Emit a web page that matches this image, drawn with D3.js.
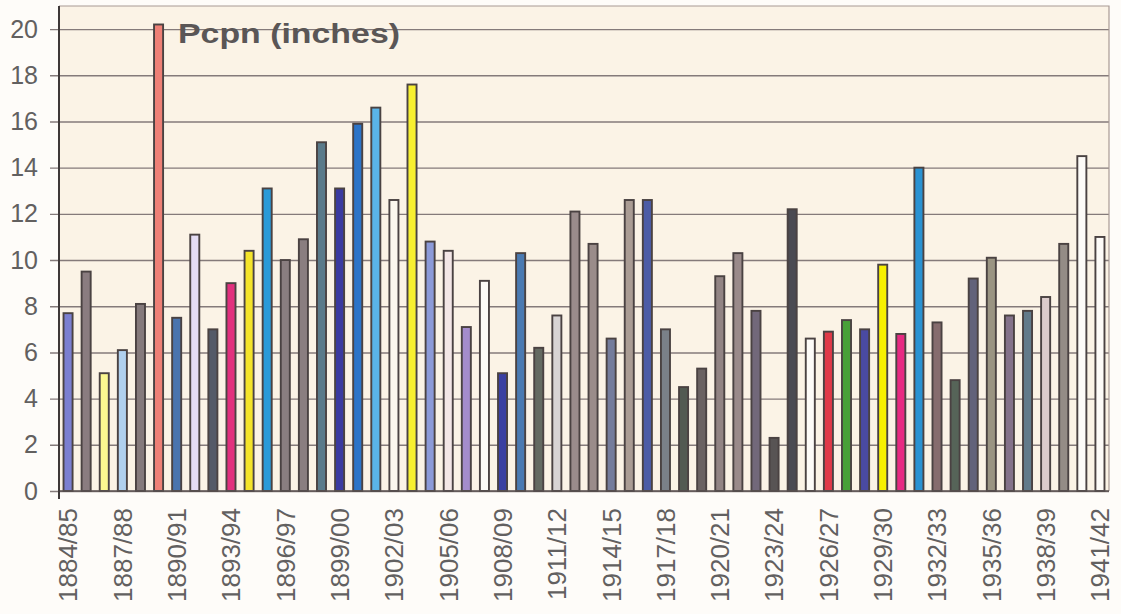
<!DOCTYPE html>
<html>
<head>
<meta charset="utf-8">
<script src="https://cdn.jsdelivr.net/npm/d3@7"></script>
<style>
  html, body { margin: 0; padding: 0; background: #fefcf9; }
  svg { display: block; }
  text { font-family: "Liberation Sans", Arial, sans-serif; }
</style>
</head>
<body>
<svg id="chart" width="1121" height="614"></svg>
<script>
// Seasonal precipitation totals, 1884/85 – 1941/42
const seasons = [
  "1884/85","1885/86","1886/87","1887/88","1888/89","1889/90","1890/91","1891/92",
  "1892/93","1893/94","1894/95","1895/96","1896/97","1897/98","1898/99","1899/00",
  "1900/01","1901/02","1902/03","1903/04","1904/05","1905/06","1906/07","1907/08",
  "1908/09","1909/10","1910/11","1911/12","1912/13","1913/14","1914/15","1915/16",
  "1916/17","1917/18","1918/19","1919/20","1920/21","1921/22","1922/23","1923/24",
  "1924/25","1925/26","1926/27","1927/28","1928/29","1929/30","1930/31","1931/32",
  "1932/33","1933/34","1934/35","1935/36","1936/37","1937/38","1938/39","1939/40",
  "1940/41","1941/42"
];

const pcpn = [
  7.7, 9.5, 5.1, 6.1, 8.1, 20.2, 7.5, 11.1,
  7.0, 9.0, 10.4, 13.1, 10.0, 10.9, 15.1, 13.1,
  15.9, 16.6, 12.6, 17.6, 10.8, 10.4, 7.1, 9.1,
  5.1, 10.3, 6.2, 7.6, 12.1, 10.7, 6.6, 12.6,
  12.6, 7.0, 4.5, 5.3, 9.3, 10.3, 7.8, 2.3,
  12.2, 6.6, 6.9, 7.4, 7.0, 9.8, 6.8, 14.0,
  7.3, 4.8, 9.2, 10.1, 7.6, 7.8, 8.4, 10.7,
  14.5, 11.0
];

const barColors = [
  "#7b7fd0","#8a7c80","#fbf790","#b0d0ee","#857a7c","#ee8076","#4a74ae","#e4dcf4",
  "#545a68","#e2307e","#f4e42a","#2a9ad8","#8a7e80","#8a7e80","#5a7a8a","#3a3aa0",
  "#2c74c8","#5ab4e8","#fbf7ee","#f8f030","#8c9ad8","#f3e6e6","#a48ccc","#fcfaf6",
  "#3a40a2","#4a7ab2","#646a62","#d8d4d4","#9a8c8c","#9a8c8a","#747c9c","#aa9c94",
  "#4c5ca6","#7a8088","#525a52","#6a6262","#928484","#9a8a8a","#72687a","#585454",
  "#4a4a52","#fdfbf8","#e03a48","#48a038","#4a4aa2","#f8f000","#e82a82","#2a92d2",
  "#866c6e","#566458","#62627a","#9a9482","#84728a","#627a8a","#dccccc","#948c86",
  "#fdfbf8","#fdfbf8"
];

const yTicks = [0, 2, 4, 6, 8, 10, 12, 14, 16, 18, 20];
const labelledSeasons = seasons.filter((d, i) => i % 3 === 0);
const title = "Pcpn (inches)";

const margin = { top: 6, right: 12, bottom: 123, left: 59 };
const width = 1121, height = 614;
const innerW = width - margin.left - margin.right;
const innerH = height - margin.top - margin.bottom;

const svg = d3.select("#chart");

const x = d3.scaleBand()
  .domain(seasons)
  .range([margin.left, margin.left + innerW])
  .paddingInner(0.5)
  .paddingOuter(0.25);

const y = d3.scaleLinear()
  .domain([0, 21])
  .range([margin.top + innerH, margin.top]);

// plot background
svg.append("rect")
  .attr("x", margin.left).attr("y", margin.top)
  .attr("width", innerW).attr("height", innerH)
  .attr("fill", "#fbf3e6");

// horizontal gridlines, reaching a little left of the axis
const gy = svg.append("g")
  .attr("transform", `translate(${margin.left + innerW},0)`)
  .call(d3.axisLeft(y).tickValues(yTicks).tickSize(innerW + 9).tickFormat(""));
gy.select(".domain").remove();
gy.selectAll(".tick line").attr("stroke", "#847a7a").attr("stroke-width", 1.4);

// value labels
const gyl = svg.append("g")
  .attr("transform", `translate(${margin.left},0)`)
  .call(d3.axisLeft(y).tickValues(yTicks).tickSize(0).tickPadding(21).tickFormat(d3.format("d")));
gyl.select(".domain").remove();
gyl.selectAll(".tick text")
  .attr("font-size", 25)
  .attr("fill", "#626060")
  .attr("font-family", "'Liberation Sans', Arial, sans-serif");

// plot frame (top and right)
svg.append("path")
  .attr("d", `M${margin.left},${margin.top}H${margin.left + innerW}V${margin.top + innerH}`)
  .attr("fill", "none")
  .attr("stroke", "#a89a94")
  .attr("stroke-width", 1.2);

// bars
svg.append("g")
  .selectAll("rect")
  .data(seasons)
  .join("rect")
  .attr("x", d => x(d))
  .attr("y", (d, i) => y(pcpn[i]))
  .attr("width", x.bandwidth())
  .attr("height", (d, i) => y(0) - y(pcpn[i]))
  .attr("fill", (d, i) => barColors[i])
  .attr("stroke", "#4a4242")
  .attr("stroke-width", 1.9);

// baseline and value axis line
svg.append("line")
  .attr("x1", margin.left).attr("x2", margin.left + innerW)
  .attr("y1", y(0)).attr("y2", y(0))
  .attr("stroke", "#5a5252").attr("stroke-width", 1.6);
svg.append("line")
  .attr("x1", margin.left).attr("x2", margin.left)
  .attr("y1", margin.top).attr("y2", y(0) + 8)
  .attr("stroke", "#3e3838").attr("stroke-width", 2);

// category labels, every third season, rotated
const gx = svg.append("g")
  .attr("transform", `translate(0,${y(0)})`)
  .call(d3.axisBottom(x).tickValues(labelledSeasons).tickSize(0).tickPadding(0));
gx.select(".domain").remove();
gx.selectAll(".tick text")
  .attr("font-size", 26)
  .attr("fill", "#626060")
  .attr("font-family", "'Liberation Sans', Arial, sans-serif")
  .attr("text-anchor", "end")
  .attr("transform", "translate(0,17) rotate(-90)")
  .attr("dy", "0.36em")
  .attr("x", 0)
  .attr("y", 0);

// chart title
svg.append("text")
  .attr("x", 178)
  .attr("y", 43)
  .attr("font-size", 28)
  .attr("font-weight", "bold")
  .attr("fill", "#5a5656")
  .attr("textLength", 222)
  .attr("lengthAdjust", "spacingAndGlyphs")
  .text(title);
</script>
</body>
</html>
